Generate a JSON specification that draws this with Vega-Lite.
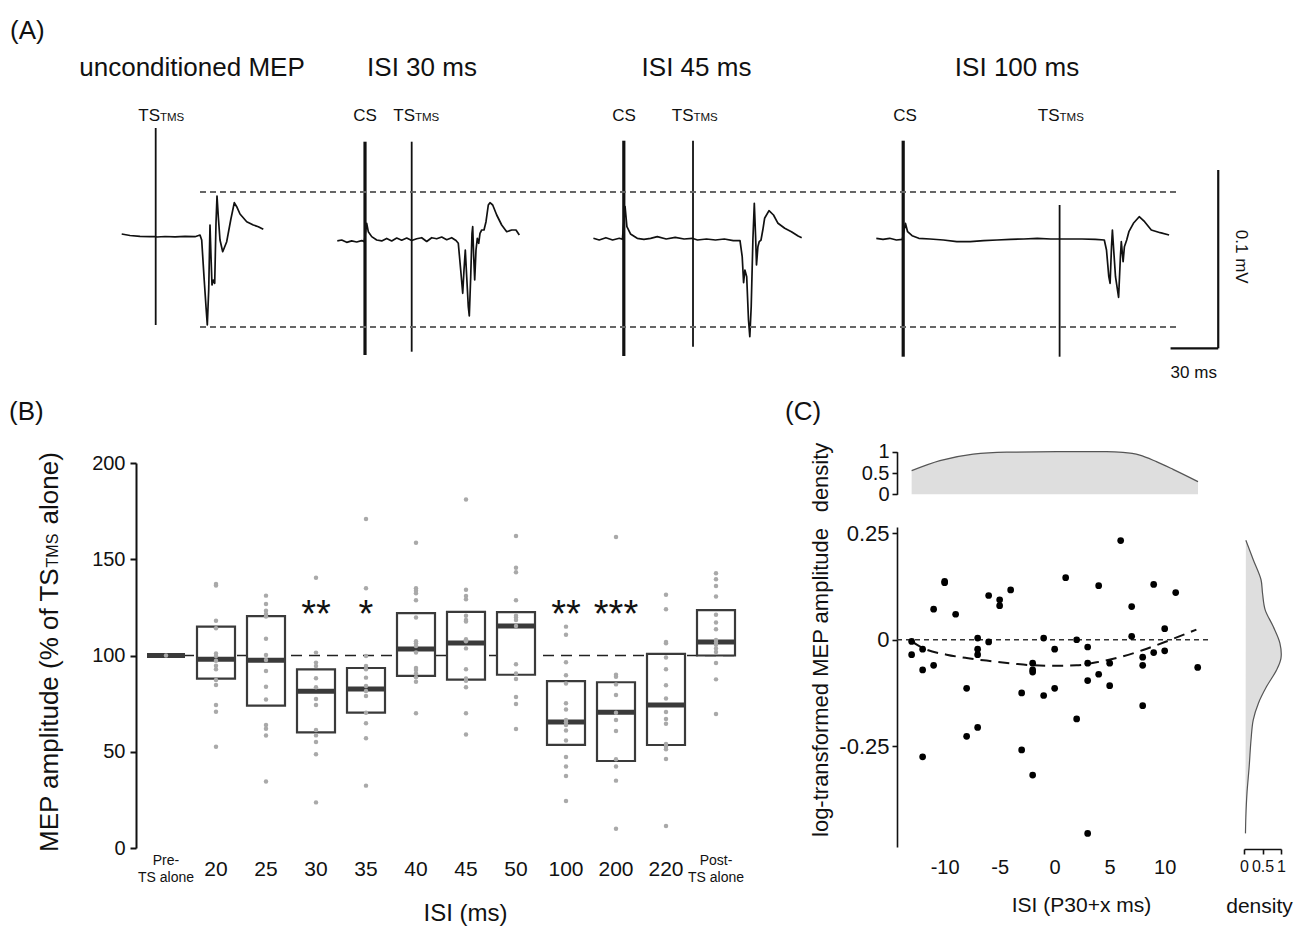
{
  "$schema": "https://vega.github.io/schema/vega-lite/v6.json",
  "width": 1297,
  "height": 934,
  "padding": 0,
  "autosize": {"type": "none"},
  "background": "white",
  "config": {
    "font": "Liberation Sans",
    "view": {"stroke": null},
    "axis": {"grid": false, "domainColor": "#111", "tickColor": "#111", "labelColor": "#111", "titleColor": "#111", "titleFontWeight": "normal", "domainWidth": 1.6, "tickWidth": 1.6, "labelOverlap": false, "labelFlush": false, "labelBound": false}
  },
  "datasets": {
    "traces": [
      {"trace": "unconditioned", "t": 76.06, "v": 0.00169}, {"trace": "unconditioned", "t": 81.25, "v": 0.00084}, {"trace": "unconditioned", "t": 87.5, "v": 0.00039}, {"trace": "unconditioned", "t": 93.75, "v": 0.00017}, {"trace": "unconditioned", "t": 96.88, "v": 0.00017}, {"trace": "unconditioned", "t": 98.13, "v": 0}, {"trace": "unconditioned", "t": 103.13, "v": 0.00028}, {"trace": "unconditioned", "t": 109.38, "v": 0.00011}, {"trace": "unconditioned", "t": 115.63, "v": 0.00039}, {"trace": "unconditioned", "t": 121.88, "v": 0.00017}, {"trace": "unconditioned", "t": 125, "v": 0.00112}, {"trace": "unconditioned", "t": 126.06, "v": -0.00169}, {"trace": "unconditioned", "t": 127.5, "v": -0.0223}, {"trace": "unconditioned", "t": 128.75, "v": -0.03916}, {"trace": "unconditioned", "t": 129.56, "v": -0.04944}, {"trace": "unconditioned", "t": 130.44, "v": -0.02978}, {"trace": "unconditioned", "t": 131.25, "v": 0.00674}, {"trace": "unconditioned", "t": 131.88, "v": -0.01107}, {"trace": "unconditioned", "t": 132.5, "v": -0.02697}, {"trace": "unconditioned", "t": 133.31, "v": -0.02416}, {"trace": "unconditioned", "t": 134.19, "v": -0.02601}, {"trace": "unconditioned", "t": 135, "v": 0.0077}, {"trace": "unconditioned", "t": 135.63, "v": 0.02303}, {"trace": "unconditioned", "t": 136.44, "v": 0.0114}, {"trace": "unconditioned", "t": 137.5, "v": -0.00169}, {"trace": "unconditioned", "t": 139.19, "v": -0.00826}, {"trace": "unconditioned", "t": 141.69, "v": -0.00264}, {"trace": "unconditioned", "t": 144.19, "v": 0.00955}, {"trace": "unconditioned", "t": 146.44, "v": 0.01927}, {"trace": "unconditioned", "t": 147.94, "v": 0.01702}, {"trace": "unconditioned", "t": 150, "v": 0.01292}, {"trace": "unconditioned", "t": 154.19, "v": 0.0086}, {"trace": "unconditioned", "t": 158.31, "v": 0.00674}, {"trace": "unconditioned", "t": 161.44, "v": 0.00579}, {"trace": "unconditioned", "t": 164.56, "v": 0.00433},
      {"trace": "ISI30", "t": 210.81, "v": -0.0022}, {"trace": "ISI30", "t": 213.56, "v": -0.0017}, {"trace": "ISI30", "t": 216.69, "v": -0.003}, {"trace": "ISI30", "t": 219.81, "v": -0.0022}, {"trace": "ISI30", "t": 222.94, "v": -0.0028}, {"trace": "ISI30", "t": 226.06, "v": -0.002}, {"trace": "ISI30", "t": 227.69, "v": -0.0026}, {"trace": "ISI30", "t": 229.19, "v": 0.0077}, {"trace": "ISI30", "t": 230.19, "v": 0.003}, {"trace": "ISI30", "t": 232.31, "v": 0.0002}, {"trace": "ISI30", "t": 235.44, "v": -0.0017}, {"trace": "ISI30", "t": 238.56, "v": -0.0022}, {"trace": "ISI30", "t": 241.69, "v": -0.0008}, {"trace": "ISI30", "t": 244.81, "v": -0.0022}, {"trace": "ISI30", "t": 247.94, "v": -0.0006}, {"trace": "ISI30", "t": 251.06, "v": -0.0018}, {"trace": "ISI30", "t": 254.19, "v": -0.0006}, {"trace": "ISI30", "t": 257.31, "v": -0.002}, {"trace": "ISI30", "t": 260.44, "v": -0.001}, {"trace": "ISI30", "t": 263.56, "v": -0.0004}, {"trace": "ISI30", "t": 266.69, "v": -0.0025}, {"trace": "ISI30", "t": 269.81, "v": -0.0004}, {"trace": "ISI30", "t": 272.94, "v": -0.001}, {"trace": "ISI30", "t": 276.06, "v": 0.0}, {"trace": "ISI30", "t": 279.19, "v": -0.0015}, {"trace": "ISI30", "t": 282.31, "v": -0.0004}, {"trace": "ISI30", "t": 285, "v": -0.002}, {"trace": "ISI30", "t": 286.44, "v": -0.00354}, {"trace": "ISI30", "t": 287.94, "v": -0.01854}, {"trace": "ISI30", "t": 289.19, "v": -0.03163}, {"trace": "ISI30", "t": 290, "v": -0.01854}, {"trace": "ISI30", "t": 290.81, "v": -0.0073}, {"trace": "ISI30", "t": 291.69, "v": -0.0223}, {"trace": "ISI30", "t": 292.69, "v": -0.03916}, {"trace": "ISI30", "t": 293.31, "v": -0.04438}, {"trace": "ISI30", "t": 294.19, "v": -0.0223}, {"trace": "ISI30", "t": 295, "v": 0.00208}, {"trace": "ISI30", "t": 295.44, "v": 0.00579}, {"trace": "ISI30", "t": 296.06, "v": -0.01107}, {"trace": "ISI30", "t": 296.69, "v": -0.02416}, {"trace": "ISI30", "t": 297.5, "v": -0.0073}, {"trace": "ISI30", "t": 298.31, "v": -0.00073}, {"trace": "ISI30", "t": 299.19, "v": -0.00354}, {"trace": "ISI30", "t": 300, "v": 0.00208}, {"trace": "ISI30", "t": 301.06, "v": 0.00393}, {"trace": "ISI30", "t": 302.5, "v": 0.00393}, {"trace": "ISI30", "t": 303.75, "v": 0.0086}, {"trace": "ISI30", "t": 305.19, "v": 0.01798}, {"trace": "ISI30", "t": 306.25, "v": 0.01927}, {"trace": "ISI30", "t": 307.94, "v": 0.01798}, {"trace": "ISI30", "t": 310.44, "v": 0.01236}, {"trace": "ISI30", "t": 313.56, "v": 0.00674}, {"trace": "ISI30", "t": 316.69, "v": 0.00298}, {"trace": "ISI30", "t": 319.81, "v": 0.00393}, {"trace": "ISI30", "t": 322.5, "v": 0.00393}, {"trace": "ISI30", "t": 324.56, "v": 0.00112},
      {"trace": "ISI45", "t": 370.88, "v": -0.00073}, {"trace": "ISI45", "t": 374.5, "v": -0.00169}, {"trace": "ISI45", "t": 378.69, "v": -0.00039}, {"trace": "ISI45", "t": 382.88, "v": -0.00169}, {"trace": "ISI45", "t": 387.06, "v": -0.00073}, {"trace": "ISI45", "t": 389, "v": -0.00129}, {"trace": "ISI45", "t": 390.69, "v": 0.01702}, {"trace": "ISI45", "t": 391.81, "v": 0.00579}, {"trace": "ISI45", "t": 394.06, "v": 0.00169}, {"trace": "ISI45", "t": 398.25, "v": -0.00073}, {"trace": "ISI45", "t": 402.44, "v": -0.00129}, {"trace": "ISI45", "t": 406.63, "v": -0.00073}, {"trace": "ISI45", "t": 410.81, "v": 0.00017}, {"trace": "ISI45", "t": 416.38, "v": -0.00112}, {"trace": "ISI45", "t": 422, "v": -0.00017}, {"trace": "ISI45", "t": 427.56, "v": -0.00112}, {"trace": "ISI45", "t": 432.63, "v": -0.00073}, {"trace": "ISI45", "t": 435.94, "v": -0.00169}, {"trace": "ISI45", "t": 441.56, "v": -0.00112}, {"trace": "ISI45", "t": 447.13, "v": -0.00169}, {"trace": "ISI45", "t": 452.69, "v": -0.00112}, {"trace": "ISI45", "t": 458.31, "v": -0.00208}, {"trace": "ISI45", "t": 462.5, "v": -0.00208}, {"trace": "ISI45", "t": 463.88, "v": -0.01107}, {"trace": "ISI45", "t": 464.75, "v": -0.02567}, {"trace": "ISI45", "t": 465.56, "v": -0.01854}, {"trace": "ISI45", "t": 466.69, "v": -0.0223}, {"trace": "ISI45", "t": 467.81, "v": -0.04663}, {"trace": "ISI45", "t": 468.63, "v": -0.05601}, {"trace": "ISI45", "t": 469.5, "v": -0.03916}, {"trace": "ISI45", "t": 470.56, "v": -0.00169}, {"trace": "ISI45", "t": 471.44, "v": 0.01893}, {"trace": "ISI45", "t": 472.25, "v": 0.00017}, {"trace": "ISI45", "t": 472.81, "v": -0.01573}, {"trace": "ISI45", "t": 473.69, "v": -0.00545}, {"trace": "ISI45", "t": 474.5, "v": -0.00264}, {"trace": "ISI45", "t": 475.63, "v": -0.00169}, {"trace": "ISI45", "t": 476.75, "v": 0.00393}, {"trace": "ISI45", "t": 477.88, "v": 0.01051}, {"trace": "ISI45", "t": 480.63, "v": 0.01478}, {"trace": "ISI45", "t": 483.44, "v": 0.01236}, {"trace": "ISI45", "t": 486.25, "v": 0.0077}, {"trace": "ISI45", "t": 490.44, "v": 0.00489}, {"trace": "ISI45", "t": 494.63, "v": 0.00298}, {"trace": "ISI45", "t": 498.81, "v": 0.00056}, {"trace": "ISI45", "t": 501.06, "v": -0.00039},
      {"trace": "ISI100", "t": 547.69, "v": -0.00073}, {"trace": "ISI100", "t": 551.88, "v": -0.00129}, {"trace": "ISI100", "t": 556.06, "v": -0.00073}, {"trace": "ISI100", "t": 560.25, "v": -0.00169}, {"trace": "ISI100", "t": 563.94, "v": -0.00129}, {"trace": "ISI100", "t": 565.88, "v": 0.0077}, {"trace": "ISI100", "t": 567.25, "v": 0.00298}, {"trace": "ISI100", "t": 570.06, "v": 0.00073}, {"trace": "ISI100", "t": 574.25, "v": -0.00073}, {"trace": "ISI100", "t": 581.25, "v": -0.00112}, {"trace": "ISI100", "t": 589.63, "v": -0.00169}, {"trace": "ISI100", "t": 598, "v": -0.00264}, {"trace": "ISI100", "t": 606.38, "v": -0.00264}, {"trace": "ISI100", "t": 614.75, "v": -0.00208}, {"trace": "ISI100", "t": 623.13, "v": -0.00169}, {"trace": "ISI100", "t": 631.5, "v": -0.00129}, {"trace": "ISI100", "t": 639.88, "v": -0.00112}, {"trace": "ISI100", "t": 648.31, "v": -0.00073}, {"trace": "ISI100", "t": 656.69, "v": -0.00112}, {"trace": "ISI100", "t": 661.69, "v": -0.00112}, {"trace": "ISI100", "t": 667.88, "v": -0.00112}, {"trace": "ISI100", "t": 676.25, "v": -0.00112}, {"trace": "ISI100", "t": 684.63, "v": -0.00129}, {"trace": "ISI100", "t": 690.19, "v": -0.00169}, {"trace": "ISI100", "t": 691.56, "v": -0.0073}, {"trace": "ISI100", "t": 693, "v": -0.0223}, {"trace": "ISI100", "t": 693.81, "v": -0.02601}, {"trace": "ISI100", "t": 694.69, "v": -0.00545}, {"trace": "ISI100", "t": 695.25, "v": 0.00393}, {"trace": "ISI100", "t": 696.06, "v": -0.0073}, {"trace": "ISI100", "t": 697.19, "v": -0.0223}, {"trace": "ISI100", "t": 699.13, "v": -0.03388}, {"trace": "ISI100", "t": 700.25, "v": -0.01107}, {"trace": "ISI100", "t": 700.81, "v": -0.00264}, {"trace": "ISI100", "t": 701.94, "v": -0.01388}, {"trace": "ISI100", "t": 702.75, "v": -0.00545}, {"trace": "ISI100", "t": 704.19, "v": -0.00169}, {"trace": "ISI100", "t": 705.56, "v": 0.00298}, {"trace": "ISI100", "t": 708.38, "v": 0.0077}, {"trace": "ISI100", "t": 712, "v": 0.0114}, {"trace": "ISI100", "t": 715.38, "v": 0.0086}, {"trace": "ISI100", "t": 719.56, "v": 0.00393}, {"trace": "ISI100", "t": 725.13, "v": 0.00242}, {"trace": "ISI100", "t": 730.69, "v": 0.00112}
    ],
    "spikes": [
      {"kind": "TS", "t": 97.31, "v": 0.06124, "v2": -0.04944},
      {"kind": "CS", "t": 228.13, "v": 0.05354, "v2": -0.06629},
      {"kind": "TS", "t": 257.31, "v": 0.05354, "v2": -0.06444},
      {"kind": "CS", "t": 389.88, "v": 0.0541, "v2": -0.06685},
      {"kind": "TS", "t": 433.13, "v": 0.0541, "v2": -0.06163},
      {"kind": "CS", "t": 564.5, "v": 0.0541, "v2": -0.06725},
      {"kind": "TS", "t": 662.25, "v": 0.01798, "v2": -0.06725}
    ],
    "guides": [
      {"t": 125, "t2": 737.5, "v": 0.02528},
      {"t": 125, "t2": 737.5, "v": -0.05056}
    ],
    "scalebar": [
      {"t": 761.4, "t2": 761.4, "v": 0.03764, "v2": -0.06253},
      {"t": 731.6, "t2": 761.4, "v": -0.06253, "v2": -0.06253}
    ],
    "a_titles": [
      {"label": "unconditioned MEP", "t": 120, "v": 0.09494},
      {"label": "ISI 30 ms", "t": 263.75, "v": 0.09494},
      {"label": "ISI 45 ms", "t": 435.31, "v": 0.09494},
      {"label": "ISI 100 ms", "t": 635.63, "v": 0.09494}
    ],
    "a_cs": [
      {"label": "CS", "t": 228.13, "v": 0.06517},
      {"label": "CS", "t": 390, "v": 0.06517},
      {"label": "CS", "t": 565.63, "v": 0.06517}
    ],
    "a_ts": [
      {"label": "TS", "t": 100, "v": 0.06517},
      {"label": "TS", "t": 259.38, "v": 0.06517},
      {"label": "TS", "t": 433.44, "v": 0.06517},
      {"label": "TS", "t": 662.25, "v": 0.06517}
    ],
    "a_tms": [
      {"label": "TMS", "t": 100, "v": 0.06517},
      {"label": "TMS", "t": 259.38, "v": 0.06517},
      {"label": "TMS", "t": 433.44, "v": 0.06517},
      {"label": "TMS", "t": 662.25, "v": 0.06517}
    ],
    "letters": [
      {"label": "(A)", "t": 6.25, "v": 0.11573},
      {"label": "(B)", "t": 5.63, "v": -0.09831},
      {"label": "(C)", "t": 490.63, "v": -0.09831}
    ],
    "a_ms": [{"label": "30 ms", "t": 746.1, "v": -0.0764}],
    "a_mv": [{"label": "0.1 mV", "t": 775.4, "v": -0.01107}],
    "b_title_big": [
      {"label": "MEP amplitude (% of TS", "t": 36.25, "v": -0.34551},
      {"label": "alone)", "t": 36.25, "v": -0.16146}
    ],
    "b_title_small": [{"label": "TMS", "t": 36.25, "v": -0.18562}],
    "b_boxes": [
      {"isi": "Pre-TS alone", "q1": 100, "median": 100, "q3": 100},
      {"isi": "20", "q1": 88, "median": 98, "q3": 115},
      {"isi": "25", "q1": 74, "median": 97.5, "q3": 120.5},
      {"isi": "30", "q1": 60.1, "median": 81.4, "q3": 92.8},
      {"isi": "35", "q1": 70.3, "median": 82.6, "q3": 93.5},
      {"isi": "40", "q1": 89.4, "median": 103.4, "q3": 122},
      {"isi": "45", "q1": 87.5, "median": 106.5, "q3": 122.7},
      {"isi": "50", "q1": 90, "median": 115.3, "q3": 122.5},
      {"isi": "100", "q1": 53.6, "median": 65.5, "q3": 86.7},
      {"isi": "200", "q1": 45.2, "median": 70.5, "q3": 86.1},
      {"isi": "220", "q1": 53.5, "median": 74.3, "q3": 100.8},
      {"isi": "Post-TS alone", "q1": 100, "median": 107, "q3": 123.6}
    ],
    "b_dots": [
      {"isi": "Pre-TS alone", "amp": 100},
      {"isi": "20", "amp": 137.1}, {"isi": "20", "amp": 136.3}, {"isi": "20", "amp": 118.1}, {"isi": "20", "amp": 114.1}, {"isi": "20", "amp": 101.1}, {"isi": "20", "amp": 99.7}, {"isi": "20", "amp": 97.3}, {"isi": "20", "amp": 94.7}, {"isi": "20", "amp": 92.8}, {"isi": "20", "amp": 87.3}, {"isi": "20", "amp": 84.7}, {"isi": "20", "amp": 74.3}, {"isi": "20", "amp": 70.8}, {"isi": "20", "amp": 52.6},
      {"isi": "25", "amp": 131.1}, {"isi": "25", "amp": 126.8}, {"isi": "25", "amp": 123.3}, {"isi": "25", "amp": 121.6}, {"isi": "25", "amp": 120.2}, {"isi": "25", "amp": 108.7}, {"isi": "25", "amp": 100.3}, {"isi": "25", "amp": 97.7}, {"isi": "25", "amp": 91.9}, {"isi": "25", "amp": 83.8}, {"isi": "25", "amp": 77.2}, {"isi": "25", "amp": 63.9}, {"isi": "25", "amp": 62.0}, {"isi": "25", "amp": 58.4}, {"isi": "25", "amp": 34.5},
      {"isi": "30", "amp": 140.4}, {"isi": "30", "amp": 101.5}, {"isi": "30", "amp": 96.3}, {"isi": "30", "amp": 94.5}, {"isi": "30", "amp": 88.2}, {"isi": "30", "amp": 83.5}, {"isi": "30", "amp": 77.4}, {"isi": "30", "amp": 74.3}, {"isi": "30", "amp": 61.3}, {"isi": "30", "amp": 58.5}, {"isi": "30", "amp": 55.1}, {"isi": "30", "amp": 48.7}, {"isi": "30", "amp": 23.7},
      {"isi": "35", "amp": 170.9}, {"isi": "35", "amp": 134.9}, {"isi": "35", "amp": 99.7}, {"isi": "35", "amp": 94.5}, {"isi": "35", "amp": 92.8}, {"isi": "35", "amp": 88.5}, {"isi": "35", "amp": 84.2}, {"isi": "35", "amp": 81.6}, {"isi": "35", "amp": 79.0}, {"isi": "35", "amp": 70.3}, {"isi": "35", "amp": 64.8}, {"isi": "35", "amp": 57.0}, {"isi": "35", "amp": 32.4},
      {"isi": "40", "amp": 158.6}, {"isi": "40", "amp": 134.9}, {"isi": "40", "amp": 133.7}, {"isi": "40", "amp": 132.3}, {"isi": "40", "amp": 128.7}, {"isi": "40", "amp": 119.7}, {"isi": "40", "amp": 107.4}, {"isi": "40", "amp": 106.3}, {"isi": "40", "amp": 104.9}, {"isi": "40", "amp": 101.6}, {"isi": "40", "amp": 93.5}, {"isi": "40", "amp": 92.5}, {"isi": "40", "amp": 90.7}, {"isi": "40", "amp": 88.7}, {"isi": "40", "amp": 86.4}, {"isi": "40", "amp": 70.0},
      {"isi": "45", "amp": 181.0}, {"isi": "45", "amp": 134.2}, {"isi": "45", "amp": 130.9}, {"isi": "45", "amp": 129.2}, {"isi": "45", "amp": 120.7}, {"isi": "45", "amp": 118.4}, {"isi": "45", "amp": 117.6}, {"isi": "45", "amp": 108.4}, {"isi": "45", "amp": 107.4}, {"isi": "45", "amp": 103.7}, {"isi": "45", "amp": 92.8}, {"isi": "45", "amp": 88.0}, {"isi": "45", "amp": 86.9}, {"isi": "45", "amp": 83.5}, {"isi": "45", "amp": 70.0}, {"isi": "45", "amp": 59.0},
      {"isi": "50", "amp": 162.1}, {"isi": "50", "amp": 145.6}, {"isi": "50", "amp": 143.2}, {"isi": "50", "amp": 128.7}, {"isi": "50", "amp": 120.7}, {"isi": "50", "amp": 119.7}, {"isi": "50", "amp": 118.4}, {"isi": "50", "amp": 115.3}, {"isi": "50", "amp": 95.4}, {"isi": "50", "amp": 90.7}, {"isi": "50", "amp": 87.8}, {"isi": "50", "amp": 78.4}, {"isi": "50", "amp": 74.8}, {"isi": "50", "amp": 61.8},
      {"isi": "100", "amp": 115.0}, {"isi": "100", "amp": 110.8}, {"isi": "100", "amp": 96.5}, {"isi": "100", "amp": 89.7}, {"isi": "100", "amp": 85.5}, {"isi": "100", "amp": 75.2}, {"isi": "100", "amp": 72.0}, {"isi": "100", "amp": 66.5}, {"isi": "100", "amp": 65.3}, {"isi": "100", "amp": 63.9}, {"isi": "100", "amp": 61.0}, {"isi": "100", "amp": 55.8}, {"isi": "100", "amp": 47.3}, {"isi": "100", "amp": 42.3}, {"isi": "100", "amp": 37.4}, {"isi": "100", "amp": 24.4},
      {"isi": "200", "amp": 161.6}, {"isi": "200", "amp": 90.0}, {"isi": "200", "amp": 89.0}, {"isi": "200", "amp": 85.0}, {"isi": "200", "amp": 79.5}, {"isi": "200", "amp": 70.3}, {"isi": "200", "amp": 66.5}, {"isi": "200", "amp": 60.8}, {"isi": "200", "amp": 46.1}, {"isi": "200", "amp": 42.3}, {"isi": "200", "amp": 35.0}, {"isi": "200", "amp": 10.0},
      {"isi": "220", "amp": 131.6}, {"isi": "220", "amp": 124.0}, {"isi": "220", "amp": 107.0}, {"isi": "220", "amp": 106.3}, {"isi": "220", "amp": 99.0}, {"isi": "220", "amp": 92.8}, {"isi": "220", "amp": 84.5}, {"isi": "220", "amp": 77.7}, {"isi": "220", "amp": 70.6}, {"isi": "220", "amp": 67.0}, {"isi": "220", "amp": 64.6}, {"isi": "220", "amp": 54.0}, {"isi": "220", "amp": 52.6}, {"isi": "220", "amp": 51.3}, {"isi": "220", "amp": 46.2}, {"isi": "220", "amp": 11.4},
      {"isi": "Post-TS alone", "amp": 142.7}, {"isi": "Post-TS alone", "amp": 139.6}, {"isi": "Post-TS alone", "amp": 136.1}, {"isi": "Post-TS alone", "amp": 130.7}, {"isi": "Post-TS alone", "amp": 121.2}, {"isi": "Post-TS alone", "amp": 117.1}, {"isi": "Post-TS alone", "amp": 113.6}, {"isi": "Post-TS alone", "amp": 108.1}, {"isi": "Post-TS alone", "amp": 106.7}, {"isi": "Post-TS alone", "amp": 105.6}, {"isi": "Post-TS alone", "amp": 103.7}, {"isi": "Post-TS alone", "amp": 101.8}, {"isi": "Post-TS alone", "amp": 96.1}, {"isi": "Post-TS alone", "amp": 87.6}, {"isi": "Post-TS alone", "amp": 69.6}
    ],
    "b_stars": [
      {"isi": "30", "y": 115, "s": "**"},
      {"isi": "35", "y": 115, "s": "*"},
      {"isi": "100", "y": 115, "s": "**"},
      {"isi": "200", "y": 115, "s": "***"}
    ],
    "c_points": [
      {"x": -13, "y": -0.004}, {"x": -13, "y": -0.035}, {"x": -12, "y": -0.022}, {"x": -12, "y": -0.071}, {"x": -12, "y": -0.275}, {"x": -11, "y": 0.072}, {"x": -11, "y": -0.06}, {"x": -10, "y": 0.137}, {"x": -10, "y": 0.134}, {"x": -9, "y": 0.06}, {"x": -8, "y": -0.114}, {"x": -8, "y": -0.227}, {"x": -7, "y": 0.004}, {"x": -7, "y": -0.022}, {"x": -7, "y": -0.035}, {"x": -7, "y": -0.206}, {"x": -6, "y": 0.104}, {"x": -6, "y": -0.005}, {"x": -5, "y": 0.094}, {"x": -5, "y": 0.08}, {"x": -4, "y": 0.117}, {"x": -3, "y": -0.125}, {"x": -3, "y": -0.259}, {"x": -2, "y": -0.055}, {"x": -2, "y": -0.071}, {"x": -2, "y": -0.076}, {"x": -2, "y": -0.318}, {"x": -1, "y": 0.004}, {"x": -1, "y": -0.131}, {"x": 0, "y": -0.022}, {"x": 0, "y": -0.114}, {"x": 1, "y": 0.146}, {"x": 2, "y": 0.0}, {"x": 2, "y": -0.186}, {"x": 3, "y": -0.017}, {"x": 3, "y": -0.055}, {"x": 3, "y": -0.096}, {"x": 3, "y": -0.455}, {"x": 4, "y": 0.127}, {"x": 4, "y": -0.081}, {"x": 5, "y": -0.055}, {"x": 5, "y": -0.108}, {"x": 6, "y": 0.233}, {"x": 7, "y": 0.078}, {"x": 7, "y": 0.008}, {"x": 8, "y": -0.041}, {"x": 8, "y": -0.06}, {"x": 8, "y": -0.155}, {"x": 9, "y": 0.13}, {"x": 9, "y": -0.03}, {"x": 10, "y": 0.026}, {"x": 10, "y": -0.026}, {"x": 11, "y": 0.111}, {"x": 13, "y": -0.065}
    ],
    "c_fit": [
      {"x": -13, "y": -0.004}, {"x": -11.94, "y": -0.02}, {"x": -9.82, "y": -0.035}, {"x": -8.0, "y": -0.043}, {"x": -6.19, "y": -0.049}, {"x": -3.77, "y": -0.056}, {"x": -1.95, "y": -0.06}, {"x": 0, "y": -0.061}, {"x": 1.98, "y": -0.06}, {"x": 3.8, "y": -0.053}, {"x": 5.92, "y": -0.041}, {"x": 8.04, "y": -0.024}, {"x": 10.15, "y": -0.004}, {"x": 12.88, "y": 0.024}
    ],
    "c_top": [
      {"x": -13, "d": 0.555}, {"x": -10.43, "d": 0.79}, {"x": -7.4, "d": 0.945}, {"x": -4.37, "d": 0.99}, {"x": 0.17, "d": 1.0}, {"x": 4.7, "d": 1.0}, {"x": 6.2, "d": 0.984}, {"x": 7.74, "d": 0.92}, {"x": 9.25, "d": 0.766}, {"x": 10.76, "d": 0.586}, {"x": 13.03, "d": 0.297}
    ],
    "c_right": [
      {"y": 0.234, "d": 0.05}, {"y": 0.188, "d": 0.25}, {"y": 0.141, "d": 0.46}, {"y": 0.11, "d": 0.5}, {"y": 0.071, "d": 0.57}, {"y": 0.031, "d": 0.79}, {"y": -0.008, "d": 0.97}, {"y": -0.043, "d": 1.0}, {"y": -0.071, "d": 0.88}, {"y": -0.11, "d": 0.61}, {"y": -0.149, "d": 0.39}, {"y": -0.188, "d": 0.25}, {"y": -0.235, "d": 0.19}, {"y": -0.298, "d": 0.14}, {"y": -0.361, "d": 0.08}, {"y": -0.416, "d": 0.05}, {"y": -0.455, "d": 0.04}
    ]
  },
  "resolve": {"scale": {"x": "independent", "y": "independent"}},
  "layer": [
    {
      "layer": [
        {
          "data": {"name": "traces"},
          "mark": {"type": "line", "color": "#111", "strokeWidth": 1.7, "strokeJoin": "round"},
          "encoding": {
            "x": {"field": "t", "type": "quantitative", "scale": {"domain": [0, 810.625], "nice": false, "zero": false}, "axis": null},
            "y": {"field": "v", "type": "quantitative", "scale": {"domain": [-0.391573, 0.133146], "nice": false, "zero": false}, "axis": null},
            "detail": {"field": "trace"}
          }
        },
        {
          "data": {"name": "spikes"},
          "transform": [{"filter": "datum.kind == 'CS'"}],
          "mark": {"type": "rule", "color": "#111", "strokeWidth": 3.2},
          "encoding": {"x": {"field": "t", "type": "quantitative", "axis": null}, "y": {"field": "v", "type": "quantitative", "axis": null}, "y2": {"field": "v2"}}
        },
        {
          "data": {"name": "spikes"},
          "transform": [{"filter": "datum.kind == 'TS'"}],
          "mark": {"type": "rule", "color": "#111", "strokeWidth": 1.8},
          "encoding": {"x": {"field": "t", "type": "quantitative", "axis": null}, "y": {"field": "v", "type": "quantitative", "axis": null}, "y2": {"field": "v2"}}
        },
        {
          "data": {"name": "guides"},
          "mark": {"type": "rule", "color": "#666", "strokeWidth": 2.2, "strokeDash": [6, 4]},
          "encoding": {"x": {"field": "t", "type": "quantitative", "axis": null}, "x2": {"field": "t2"}, "y": {"field": "v", "type": "quantitative", "axis": null}}
        },
        {
          "data": {"name": "scalebar"},
          "mark": {"type": "rule", "color": "#111", "strokeWidth": 2.2},
          "encoding": {"x": {"field": "t", "type": "quantitative", "axis": null}, "x2": {"field": "t2"}, "y": {"field": "v", "type": "quantitative", "axis": null}, "y2": {"field": "v2"}}
        },
        {
          "data": {"name": "a_titles"},
          "mark": {"type": "text", "fontSize": 26, "align": "center", "baseline": "middle", "color": "#111"},
          "encoding": {"x": {"field": "t", "type": "quantitative", "axis": null}, "y": {"field": "v", "type": "quantitative", "axis": null}, "text": {"field": "label"}}
        },
        {
          "data": {"name": "a_cs"},
          "mark": {"type": "text", "fontSize": 17, "align": "center", "baseline": "alphabetic", "color": "#111"},
          "encoding": {"x": {"field": "t", "type": "quantitative", "axis": null}, "y": {"field": "v", "type": "quantitative", "axis": null}, "text": {"field": "label"}}
        },
        {
          "data": {"name": "a_ts"},
          "mark": {"type": "text", "fontSize": 17, "align": "right", "baseline": "alphabetic", "color": "#111"},
          "encoding": {"x": {"field": "t", "type": "quantitative", "axis": null}, "y": {"field": "v", "type": "quantitative", "axis": null}, "text": {"field": "label"}}
        },
        {
          "data": {"name": "a_tms"},
          "mark": {"type": "text", "fontSize": 11.5, "align": "left", "baseline": "alphabetic", "color": "#111"},
          "encoding": {"x": {"field": "t", "type": "quantitative", "axis": null}, "y": {"field": "v", "type": "quantitative", "axis": null}, "text": {"field": "label"}}
        },
        {
          "data": {"name": "letters"},
          "mark": {"type": "text", "fontSize": 26, "align": "left", "baseline": "middle", "color": "#111"},
          "encoding": {"x": {"field": "t", "type": "quantitative", "axis": null}, "y": {"field": "v", "type": "quantitative", "axis": null}, "text": {"field": "label"}}
        },
        {
          "data": {"name": "a_ms"},
          "mark": {"type": "text", "fontSize": 17, "align": "center", "baseline": "middle", "color": "#111"},
          "encoding": {"x": {"field": "t", "type": "quantitative", "axis": null}, "y": {"field": "v", "type": "quantitative", "axis": null}, "text": {"field": "label"}}
        },
        {
          "data": {"name": "a_mv"},
          "mark": {"type": "text", "fontSize": 17, "align": "center", "baseline": "middle", "angle": 90, "color": "#111"},
          "encoding": {"x": {"field": "t", "type": "quantitative", "axis": null}, "y": {"field": "v", "type": "quantitative", "axis": null}, "text": {"field": "label"}}
        },
        {
          "data": {"name": "b_title_big"},
          "mark": {"type": "text", "fontSize": 26, "align": "left", "baseline": "alphabetic", "angle": 270, "color": "#111"},
          "encoding": {"x": {"field": "t", "type": "quantitative", "axis": null}, "y": {"field": "v", "type": "quantitative", "axis": null}, "text": {"field": "label"}}
        },
        {
          "data": {"name": "b_title_small"},
          "mark": {"type": "text", "fontSize": 16, "align": "left", "baseline": "alphabetic", "angle": 270, "color": "#111"},
          "encoding": {"x": {"field": "t", "type": "quantitative", "axis": null}, "y": {"field": "v", "type": "quantitative", "axis": null}, "text": {"field": "label"}}
        }
      ]
    },
    {
      "layer": [
        {
          "data": {"values": [{"ref": 100}]},
          "mark": {"type": "rule", "color": "#222", "strokeWidth": 1.6, "strokeDash": [11, 7]},
          "encoding": {
            "x": {"datum": "Pre-TS alone", "type": "nominal", "bandPosition": 0},
            "x2": {"datum": "Post-TS alone", "bandPosition": 1},
            "y": {"field": "ref", "type": "quantitative"}
          }
        },
        {
          "data": {"name": "b_boxes"},
          "mark": {"type": "bar", "fill": "white", "stroke": "#3a3a3a", "strokeWidth": 2.2},
          "encoding": {
            "x": {
              "field": "isi", "type": "nominal",
              "scale": {"domain": ["Pre-TS alone", "20", "25", "30", "35", "40", "45", "50", "100", "200", "220", "Post-TS alone"], "range": [136, 746], "paddingInner": 0.24, "paddingOuter": 0.22},
              "axis": {
                "orient": "bottom", "offset": -86, "domain": false, "ticks": false, "labelBaseline": "middle", "labelAngle": 0, "labelAlign": "center",
                "labelPadding": {"condition": {"test": "length(datum.value) > 4", "value": 12.5}, "value": 21},
                "labelFontSize": {"condition": {"test": "length(datum.value) > 4", "value": 14}, "value": 21},
                "labelLineHeight": 17,
                "labelExpr": "datum.value == 'Pre-TS alone' ? ['Pre-', 'TS alone'] : datum.value == 'Post-TS alone' ? ['Post-', 'TS alone'] : datum.label",
                "title": "ISI (ms)", "titleFontSize": 24, "titleX": 465, "titleY": 65, "titleBaseline": "middle", "titleAlign": "center"
              }
            },
            "y": {
              "field": "q1", "type": "quantitative",
              "scale": {"domain": [0, 200], "range": [848, 463], "nice": false, "zero": false},
              "axis": {"orient": "left", "offset": -136, "values": [0, 50, 100, 150, 200], "tickSize": 6, "labelPadding": 5, "labelFontSize": 20, "labelBaseline": "middle", "title": null, "domainWidth": 2, "tickWidth": 2}
            },
            "y2": {"field": "q3"}
          }
        },
        {
          "data": {"name": "b_boxes"},
          "mark": {"type": "tick", "color": "#3a3a3a", "opacity": 1, "thickness": 5, "size": 38},
          "encoding": {
            "x": {"field": "isi", "type": "nominal"},
            "y": {"field": "median", "type": "quantitative"}
          }
        },
        {
          "data": {"name": "b_dots"},
          "mark": {"type": "point", "filled": true, "color": "#a9a9a9", "size": 20, "opacity": 1},
          "encoding": {
            "x": {"field": "isi", "type": "nominal"},
            "y": {"field": "amp", "type": "quantitative"}
          }
        },
        {
          "data": {"name": "b_stars"},
          "mark": {"type": "text", "fontSize": 38, "align": "center", "baseline": "alphabetic", "color": "#111"},
          "encoding": {
            "x": {"field": "isi", "type": "nominal"},
            "y": {"field": "y", "type": "quantitative"},
            "text": {"field": "s"}
          }
        }
      ]
    },
    {
      "data": {"name": "c_top"},
      "mark": {"type": "area", "color": "#dedede", "opacity": 1, "interpolate": "monotone", "line": {"color": "#555", "strokeWidth": 1.2}},
      "encoding": {
        "x": {"field": "x", "type": "quantitative", "scale": {"domain": [-14.33, 14.3], "range": [897, 1212], "nice": false, "zero": false}, "axis": null},
        "y": {"field": "d", "type": "quantitative", "scale": {"domain": [0, 1], "range": [494.3, 451.7], "nice": false, "zero": false},
          "axis": {"orient": "left", "offset": -897, "values": [0, 0.5, 1], "labelExpr": "toString(datum.value)", "tickSize": 5, "labelPadding": 3, "labelFontSize": 20, "labelBaseline": "middle", "title": "density", "titleFontSize": 22, "titleX": -70, "titleY": 477, "titleAngle": 270, "titleBaseline": "alphabetic", "titleAlign": "center"}}
      }
    },
    {
      "layer": [
        {
          "data": {"values": [{"zero": 0}]},
          "mark": {"type": "rule", "color": "#333", "strokeWidth": 1.3, "strokeDash": [5, 4]},
          "encoding": {
            "x": {"datum": -14.33, "type": "quantitative"},
            "x2": {"datum": 14.3},
            "y": {"field": "zero", "type": "quantitative"}
          }
        },
        {
          "data": {"name": "c_fit"},
          "mark": {"type": "line", "color": "#111", "strokeWidth": 2, "strokeDash": [11, 7], "interpolate": "monotone"},
          "encoding": {
            "x": {"field": "x", "type": "quantitative"},
            "y": {"field": "y", "type": "quantitative"}
          }
        },
        {
          "data": {"name": "c_points"},
          "mark": {"type": "circle", "color": "#000", "size": 45, "opacity": 1},
          "encoding": {
            "x": {"field": "x", "type": "quantitative", "scale": {"domain": [-14.33, 14.3], "range": [897, 1212], "nice": false, "zero": false},
              "axis": {"orient": "bottom", "offset": -87, "domain": false, "ticks": false, "values": [-10, -5, 0, 5, 10], "labelExpr": "toString(datum.value)", "labelPadding": 20, "labelBaseline": "middle", "labelAlign": "center", "labelFontSize": 20, "title": "ISI (P30+x ms)", "titleFontSize": 21, "titleX": 1081, "titleY": 58, "titleBaseline": "middle", "titleAlign": "center"}},
            "y": {"field": "y", "type": "quantitative", "scale": {"domain": [-0.487, 0.265], "range": [847, 527], "nice": false, "zero": false},
              "axis": {"orient": "left", "offset": -897, "values": [-0.25, 0, 0.25], "labelExpr": "toString(datum.value)", "tickSize": 5, "labelPadding": 3, "labelFontSize": 22, "labelBaseline": "middle", "title": "log-transformed MEP amplitude", "titleFontSize": 22, "titleX": -70, "titleY": 682, "titleAngle": 270, "titleBaseline": "alphabetic", "titleAlign": "center"}}
          }
        }
      ]
    },
    {
      "data": {"name": "c_right"},
      "mark": {"type": "line", "fill": "#dedede", "stroke": "#555", "strokeWidth": 1.2, "interpolate": "catmull-rom"},
      "encoding": {
        "x": {"field": "d", "type": "quantitative", "scale": {"domain": [0, 1], "range": [1244, 1281], "nice": false, "zero": false},
          "axis": {"orient": "bottom", "offset": -85, "values": [0, 0.5, 1], "labelExpr": "toString(datum.value)", "tickSize": 5, "labelPadding": 12, "labelBaseline": "middle", "labelAlign": "center", "labelFontSize": 16, "title": "density", "titleFontSize": 21, "titleX": 1259, "titleY": 57, "titleBaseline": "middle", "titleAlign": "center"}},
        "y": {"field": "y", "type": "quantitative", "scale": {"domain": [-0.487, 0.265], "range": [847, 527], "nice": false, "zero": false}, "axis": null},
        "order": {"field": "y", "type": "quantitative"}
      }
    }
  ]
}
